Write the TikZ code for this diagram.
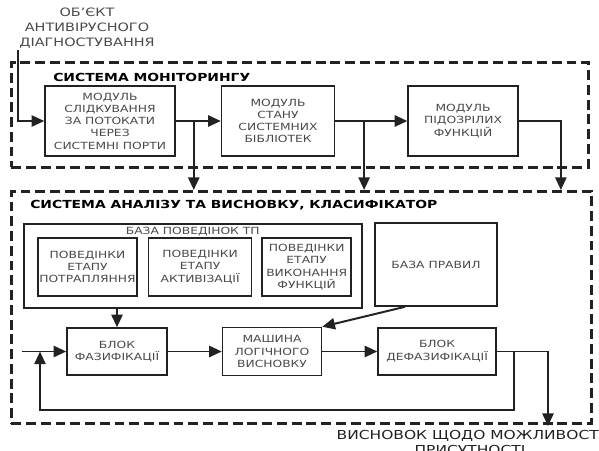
\documentclass[tikz,border=0pt]{standalone}
\usepackage{fontspec}
\setmainfont{DejaVu Sans}[FakeStretch=1.25]
\usepackage{tikz}
\usetikzlibrary{arrows.meta, calc, positioning}
\usepackage{xcolor}
\tikzstyle{mbox} = [%
  rectangle,
  draw=dgray,
  line width=1.1pt,
  align=center,
  text=tgray,
  inner sep=1pt,
  font=\fontsize{7}{8.7}\selectfont
]
\definecolor{dgray}{HTML}{222222}
\definecolor{tgray}{HTML}{4A4A4A}

\begin{document}
\begin{tikzpicture}[%
  flow/.style={%
    -{Triangle[length=9pt,width=8pt]},
    line width=1.4pt,
    draw=dgray
  },
  sysframe/.style={%
    draw=dgray,
    line width=1.8pt,
    dash pattern=on 7pt off 3.5pt,
    inner sep=0pt,
    anchor=north west
  },
  systitle/.style={%
    font=\bfseries\fontsize{7.9}{10}\selectfont,
    inner sep=0pt,
    anchor=west
  },
  plain/.style={%
    font=\fontsize{8.2}{10.6}\selectfont,
    text=tgray,
    align=center,
    inner sep=0pt
  }
]

  \useasboundingbox (0,0) rectangle (14.975,-11.25);

  % Frames
  \node[sysframe,minimum width=14.425cm,minimum height=2.625cm] (MON) at (0.25,-1.525) {};
  \node[sysframe,minimum width=14.5cm,minimum height=5.8cm] (ANA) at (0.25,-4.75) {};
  \node[systitle] (MONt) at (1.325,-1.925) {СИСТЕМА МОНІТОРИНГУ};
  \node[systitle] (ANAt) at (0.75,-5.125) {СИСТЕМА АНАЛІЗУ ТА ВИСНОВКУ, КЛАСИФІКАТОР};

  % Nodes
  \node[plain] (OBJ) at (2.175,-0.7) {ОБ’ЄКТ\\АНТИВІРУСНОГО\\ДІАГНОСТУВАННЯ};
  \node[mbox,minimum width=3.25cm,minimum height=1.75cm] (M1) at (2.75,-3.025) {МОДУЛЬ\\СЛІДКУВАННЯ\\ЗА ПОТОКАТИ\\ЧЕРЕЗ\\СИСТЕМНІ ПОРТИ};
  \node[mbox,minimum width=2.825cm,minimum height=1.75cm,right=1.125cm of M1] (M2) {МОДУЛЬ\\СТАНУ\\СИСТЕМНИХ\\БІБЛІОТЕК};
  \node[mbox,minimum width=2.75cm,minimum height=1.75cm,right=1.8cm of M2] (M3) {МОДУЛЬ\\ПІДОЗРІЛИХ\\ФУНКЦІЙ};

  \node[mbox,minimum width=8.45cm,minimum height=2.1cm,anchor=north west] (BEH) at (0.575,-5.575) {};
  \node[mbox,draw=none,below=0.04cm of BEH.north] (BEHt) {БАЗА ПОВЕДІНОК ТП};
  \node[mbox,minimum width=2.475cm,minimum height=1.45cm] (B1) at (2.1875,-6.675) {ПОВЕДІНКИ\\ЕТАПУ\\ПОТРАПЛЯННЯ};
  \node[mbox,minimum width=2.575cm,minimum height=1.45cm,right=0.25cm of B1] (B2) {ПОВЕДІНКИ\\ЕТАПУ\\АКТИВІЗАЦІЇ};
  \node[mbox,minimum width=2.225cm,minimum height=1.45cm,right=0.225cm of B2] (B3) {ПОВЕДІНКИ\\ЕТАПУ\\ВИКОНАННЯ\\ФУНКЦІЙ};
  \node[mbox,minimum width=3.05cm,minimum height=2.075cm] (RUL) at (10.9,-6.6125) {БАЗА ПРАВИЛ};

  \node[mbox,minimum width=2.5cm,minimum height=1.175cm] (FUZ) at (2.925,-8.7875) {БЛОК\\ФАЗИФІКАЦІЇ};
  \node[mbox,minimum width=2.475cm,minimum height=1.2cm,right=1.35cm of FUZ] (INF) {МАШИНА\\ЛОГІЧНОГО\\ВИСНОВКУ};
  \node[mbox,minimum width=2.95cm,minimum height=1.175cm,right=1.375cm of INF] (DEF) {\\[-4pt]БЛОК\\ДЕФАЗИФІКАЦІЇ};

  \node[plain,anchor=north,font=\fontsize{8.8}{11}\selectfont,text=dgray] (OUT) at (11.75,-10.74) {ВИСНОВОК ЩОДО МОЖЛИВОСТІ\\ПРИСУТНОСТІ};

  % Branch points
  \coordinate (OBJin) at (0.45,-1.25);
  \coordinate (S1) at ($(M1.east)!0.4!(M2.west)$);
  \coordinate (S2) at ($(M2.east)!0.4!(M3.west)$);
  \coordinate (S3) at ($(M3.east)+(1.05,0)$);
  \coordinate (FUZin) at (0.55,-8.7875);
  \coordinate (FBsplit) at ($(DEF.east)+(0.425,0)$);
  \coordinate (FBlow) at (1.0,-10.25);
  \coordinate (OUTtip) at (13.7,-10.65);

  % Monitoring edges
  \draw[flow] (OBJin) |- (M1);
  \draw[flow] (M1) -- (M2);
  \draw[flow] (M2) -- (M3);
  \draw[flow] (S1) -- (S1 |- ANA.north);
  \draw[flow] (S2) -- (S2 |- ANA.north);
  \draw[flow] (M3.east) -- (S3) -- (S3 |- ANA.north);

  % Analysis edges
  \draw[flow] (FUZ.north |- BEH.south) -- (FUZ.north);
  \draw[flow] ([xshift=-0.775cm]RUL.south) -- (INF.north east);
  \draw[flow] (FUZin) -- (FUZ);
  \draw[flow] (FUZ) -- (INF);
  \draw[flow] (INF) -- (DEF);
  \draw[flow] (DEF.east) -| (OUTtip);
  \draw[flow] (FBsplit) |- (FBlow) -- (FBlow |- FUZin);

\end{tikzpicture}
\end{document}
